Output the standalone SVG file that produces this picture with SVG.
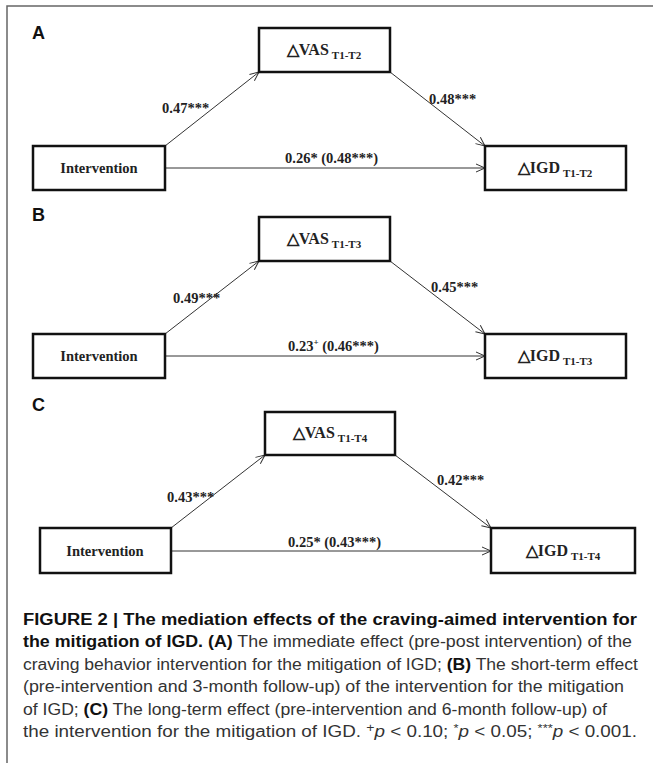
<svg xmlns="http://www.w3.org/2000/svg" width="654" height="763" viewBox="0 0 654 763">
<style>
.frame{fill:none;stroke:#666;stroke-width:1.5}
.box{fill:#fff;stroke:#111;stroke-width:2.5}
.conn{stroke:#333;stroke-width:1;fill:none}
.lbl{font-family:"Liberation Sans",Arial,sans-serif;font-weight:bold;font-size:18px;fill:#111}
.nt{font-family:"Liberation Serif","Times New Roman",serif;font-weight:bold;fill:#222}
.big{font-size:16px}
.int{font-size:14.5px}
.sub{font-size:11px}
.coef{font-family:"Liberation Serif","Times New Roman",serif;font-weight:bold;font-size:14.5px;fill:#222}
.cap{font-family:"Liberation Sans",Arial,sans-serif;font-size:16px;fill:#333}
.b{font-weight:bold;fill:#111}
.i{font-style:italic}
</style>
<defs>
<marker id="arr" viewBox="0 0 10 10" refX="10" refY="5" markerWidth="10" markerHeight="10" markerUnits="userSpaceOnUse" orient="auto">
<path d="M1,1 L10,5 L1,9" fill="none" stroke="#333" stroke-width="1"/>
</marker>
</defs>
<rect width="654" height="763" fill="#fff"/>
<path class="frame" d="M7,763 L7,6 L653,6"/>

<g id="labels">
<text class="lbl" x="32" y="39">A</text>
<text class="lbl" x="32" y="221">B</text>
<text class="lbl" x="32" y="411">C</text>
</g>

<g id="connectors">
<line class="conn" x1="165" y1="146" x2="259" y2="72" marker-end="url(#arr)"/>
<line class="conn" x1="390" y1="72" x2="485" y2="146" marker-end="url(#arr)"/>
<line class="conn" x1="165" y1="168" x2="485" y2="168" marker-end="url(#arr)"/>
<text class="coef" x="162" y="113">0.47***</text>
<text class="coef" x="429" y="104">0.48***</text>
<text class="coef" x="285" y="163">0.26* (0.48***)</text>

<line class="conn" x1="165" y1="334" x2="259" y2="261" marker-end="url(#arr)"/>
<line class="conn" x1="390" y1="261" x2="485" y2="334" marker-end="url(#arr)"/>
<line class="conn" x1="165" y1="356" x2="485" y2="356" marker-end="url(#arr)"/>
<text class="coef" x="173" y="303">0.49***</text>
<text class="coef" x="431" y="292">0.45***</text>
<text class="coef" x="288" y="351">0.23<tspan font-size="9" dy="-6">+</tspan><tspan dy="6"> (0.46***)</tspan></text>

<line class="conn" x1="171" y1="528" x2="265" y2="455" marker-end="url(#arr)"/>
<line class="conn" x1="395" y1="455" x2="491" y2="528" marker-end="url(#arr)"/>
<line class="conn" x1="171" y1="551" x2="491" y2="551" marker-end="url(#arr)"/>
<text class="coef" x="167" y="502">0.43***</text>
<text class="coef" x="437" y="485">0.42***</text>
<text class="coef" x="288" y="547">0.25* (0.43***)</text>
</g>

<g id="A-intervention">
<rect class="box" x="33" y="146" width="132" height="44"/>
<text class="nt int" x="99" y="173" text-anchor="middle">Intervention</text>
</g>
<g id="A-vas">
<rect class="box" x="259" y="28" width="131" height="44"/>
<text class="nt" x="324" y="55" text-anchor="middle"><tspan class="big">△VAS</tspan><tspan class="sub" dx="3" dy="4">T1-T2</tspan></text>
</g>
<g id="A-igd">
<rect class="box" x="485" y="146" width="141" height="44"/>
<text class="nt" x="555" y="173" text-anchor="middle"><tspan class="big">△IGD</tspan><tspan class="sub" dx="3" dy="4">T1-T2</tspan></text>
</g>

<g id="B-intervention">
<rect class="box" x="33" y="334" width="132" height="44"/>
<text class="nt int" x="99" y="361" text-anchor="middle">Intervention</text>
</g>
<g id="B-vas">
<rect class="box" x="259" y="217" width="131" height="44"/>
<text class="nt" x="324" y="244" text-anchor="middle"><tspan class="big">△VAS</tspan><tspan class="sub" dx="3" dy="4">T1-T3</tspan></text>
</g>
<g id="B-igd">
<rect class="box" x="485" y="334" width="141" height="44"/>
<text class="nt" x="555" y="361" text-anchor="middle"><tspan class="big">△IGD</tspan><tspan class="sub" dx="3" dy="4">T1-T3</tspan></text>
</g>

<g id="C-intervention">
<rect class="box" x="40" y="528" width="131" height="45"/>
<text class="nt int" x="105" y="556" text-anchor="middle">Intervention</text>
</g>
<g id="C-vas">
<rect class="box" x="265" y="412" width="130" height="43"/>
<text class="nt" x="330" y="438" text-anchor="middle"><tspan class="big">△VAS</tspan><tspan class="sub" dx="3" dy="4">T1-T4</tspan></text>
</g>
<g id="C-igd">
<rect class="box" x="491" y="528" width="144" height="45"/>
<text class="nt" x="563" y="556" text-anchor="middle"><tspan class="big">△IGD</tspan><tspan class="sub" dx="3" dy="4">T1-T4</tspan></text>
</g>

<g id="caption">
<text class="cap b" x="23" y="625" textLength="614" lengthAdjust="spacingAndGlyphs">FIGURE 2 | The mediation effects of the craving-aimed intervention for</text>
<text class="cap" x="23" y="647" textLength="609" lengthAdjust="spacingAndGlyphs"><tspan class="b">the mitigation of IGD. (A)</tspan> The immediate effect (pre-post intervention) of the</text>
<text class="cap" x="23" y="669.5" textLength="615" lengthAdjust="spacingAndGlyphs">craving behavior intervention for the mitigation of IGD; <tspan class="b">(B)</tspan> The short-term effect</text>
<text class="cap" x="23" y="692" textLength="601" lengthAdjust="spacingAndGlyphs">(pre-intervention and 3-month follow-up) of the intervention for the mitigation</text>
<text class="cap" x="23" y="714.5" textLength="584" lengthAdjust="spacingAndGlyphs">of IGD; <tspan class="b">(C)</tspan> The long-term effect (pre-intervention and 6-month follow-up) of</text>
<text class="cap" x="23" y="737" textLength="614" lengthAdjust="spacingAndGlyphs">the intervention for the mitigation of IGD. <tspan font-size="12" dy="-5">+</tspan><tspan class="i" dy="5">p</tspan> &lt; 0.10; <tspan font-size="11" dy="-5">*</tspan><tspan class="i" dy="5">p</tspan> &lt; 0.05; <tspan font-size="11" dy="-5">***</tspan><tspan class="i" dy="5">p</tspan> &lt; 0.001.</text>
</g>
</svg>
